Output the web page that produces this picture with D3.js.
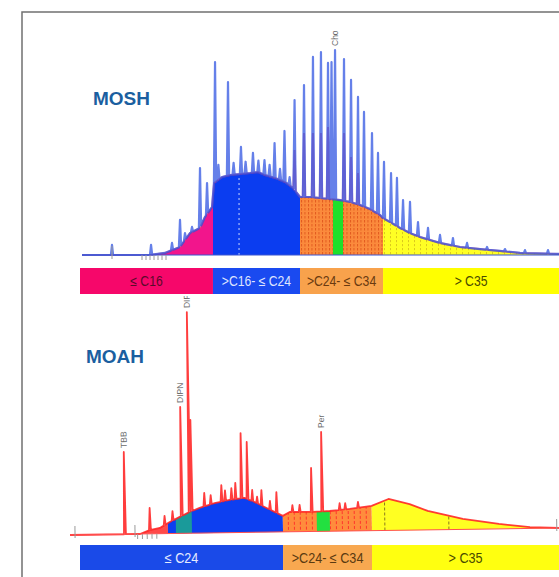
<!DOCTYPE html>
<html>
<head>
<meta charset="utf-8">
<script src="https://cdn.jsdelivr.net/npm/d3@7"></script>
<style>
body { margin: 0; background: #fff; }
svg { display: block; }
text { font-family: "Liberation Sans", Arial, sans-serif; }
</style>
</head>
<body>
<svg id="chart" width="559" height="577"></svg>
<script>
// ---- MOSH trace: retention time (t) and signal (0-100) ----
var moshEnvT = [0.125, 4.375, 5.31, 6.25, 6.875, 7.5, 7.81, 8.25, 8.375, 8.875, 9.375, 10.0, 10.625, 11.125, 11.56, 12.19, 12.81, 13.31, 13.75, 14.375, 15.0, 15.625, 16.25, 16.875, 17.5, 18.125, 18.75, 18.94, 19.375, 20.0, 20.625, 21.25, 21.875, 22.5, 23.75, 25.0, 26.25, 27.5, 29.94];
var moshEnvS = [0, 0, 1.0, 3.9, 10.7, 13.2, 18.5, 23.4, 35.1, 38.0, 39.0, 39.5, 40.0, 40.5, 39.0, 37.6, 35.6, 32.7, 28.3, 28.3, 27.8, 27.3, 26.8, 25.9, 24.4, 22.4, 19.5, 18.0, 16.1, 13.2, 10.7, 8.8, 7.3, 5.9, 3.9, 2.9, 2.0, 1.0, 0.5];
var moshPeakT = [2.0, 4.44, 5.75, 6.25, 6.56, 7.0, 7.5, 7.94, 8.44, 8.65, 9.25, 9.6, 10.06, 10.35, 10.81, 11.15, 11.53, 11.85, 12.16, 12.5, 12.78, 13.1, 13.41, 14.0, 14.56, 15.06, 15.5, 15.72, 15.94, 16.5, 16.94, 17.375, 17.75, 18.25, 18.625, 19.0, 19.44, 19.81, 20.19, 20.625, 21.125, 21.75, 22.5, 23.31, 24.19, 25.44, 26.56, 27.81, 29.25];
var moshPeakS = [4.9, 4.9, 5.9, 17.1, 10.7, 13.7, 42.4, 35.1, 94.1, 44.0, 84.4, 45.0, 52.7, 45.5, 49.8, 46.0, 46.3, 44.0, 54.6, 42.0, 60.5, 38.0, 75.6, 82.9, 96.6, 99.0, 93.7, 94.1, 100, 95.6, 85.4, 77.1, 69.8, 59.5, 49.8, 45.4, 40.0, 37.6, 26.8, 25.9, 16.1, 13.2, 9.8, 8.3, 5.9, 3.9, 2.9, 2.4, 2.4];
var moshRedT = [13.41, 14.0, 14.56, 15.06, 15.5, 16.5, 16.94, 17.375];
var moshRedS = [51.2, 59.5, 59.5, 59.5, 62.4, 59.5, 47.8, 40.0];
var moshLabelT = [15.94];
var moshLabelText = ["Cho"];
var moshMarksT = [3.875, 4.125, 4.375, 4.625, 4.875, 5.125, 5.375];
var moshTallMarksT = [2.0];

// MOSH fractions
var moshBandEdges = [0, 8.31, 13.75, 18.94, 30];
var moshBandLabels = ["\u2264 C16", ">C16- \u2264 C24", ">C24- \u2264 C34", "> C35"];
var moshGreen = [15.81, 16.44];
var moshBlueCuts = [9.94];

// ---- MOAH trace ----
var moahEnvT = [-0.625, 3.75, 4.375, 5.0, 5.625, 6.25, 6.875, 7.5, 8.44, 9.375, 10.31, 10.94, 11.56, 12.69, 13.125, 14.375, 15.625, 16.875, 18.25, 19.31, 20.625, 21.75, 23.94, 26.19, 28.125, 29.94];
var moahEnvS = [0, 0, 1.7, 2.6, 5.2, 7.4, 9.6, 11.3, 13.4, 14.7, 15.5, 13.6, 11.3, 7.2, 8.9, 8.8, 9.1, 9.9, 11.1, 14.1, 11.7, 8.5, 4.7, 2.2, 0.6, 0];
var moahPeakT = [2.81, 4.375, 5.3, 5.8, 6.375, 6.875, 7.0, 7.8, 8.2, 8.875, 9.1, 9.5, 9.75, 10.125, 10.5, 10.8, 11.1, 11.375, 11.9, 12.31, 13.3, 13.75, 14.5, 15.16, 16.25, 16.6, 17.4];
var moahPeakS = [36.9, 11.6, 8.0, 10.0, 56.7, 99.2, 50.8, 18.0, 17.0, 21.4, 19.0, 20.0, 22.3, 44.6, 40.6, 19.0, 16.0, 18.9, 14.0, 17.9, 12.0, 12.0, 28.5, 44.6, 12.5, 12.5, 13.0];
var moahLabelT = [2.81, 6.375, 6.875, 15.16];
var moahLabelText = ["TBB", "DIPN", "DIPN", "Per"];
var moahTallMarksT = [-0.31, 3.44, 29.8];
var moahMarksT = [3.6, 3.9, 4.2, 4.5, 4.8];

// MOAH fractions
var moahFillEdges = [0, 5.5, 12.69, 18.25, 30];
var moahTeal = [6.0, 7.0];
var moahGreen = [14.81, 15.625];
var moahYellowCuts = [19.06, 23.06];
var moahBandEdges = [0, 12.69, 18.25, 30];
var moahBandLabels = ["\u2264 C24", ">C24- \u2264 C34", "> C35"];

var svg = d3.select("#chart");
var x = d3.scaleLinear().domain([0, 30]).range([80, 560]);
var yMosh = d3.scaleLinear().domain([0, 100]).range([255, 50]);
var yMoah = d3.scaleLinear().domain([0, 100]).range([535, 312]);

var defs = svg.append("defs");
var addPattern = function(id, w, h, base, dash, dashLen) {
    var p = defs.append("pattern").attr("id", id)
        .attr("width", w).attr("height", h)
        .attr("patternUnits", "userSpaceOnUse");
    p.append("rect").attr("width", w).attr("height", h).attr("fill", base);
    p.append("line").attr("x1", 0.5).attr("x2", 0.5).attr("y1", 0).attr("y2", dashLen)
        .attr("stroke", dash).attr("stroke-width", 0.9);
};
addPattern("orMosh", 3.5, 4, "#fb8a3c", "#e0561c", 2.5);
addPattern("yeMosh", 6, 4, "#ffff24", "#d8c41c", 2.2);
addPattern("orMoah", 6, 5, "#ff8c3c", "#ff2a2a", 3);

// frame
svg.append("rect").attr("x", 22).attr("y", 12).attr("width", 620).attr("height", 620)
    .attr("fill", "none").attr("stroke", "#707070").attr("stroke-width", 1.5);

var tracePoints = function(envT, envS, peakT, peakS, w) {
    var env = d3.scaleLinear().domain(envT).range(envS);
    var pts = envT.map(function(t, i) { return [t, envS[i]]; })
        .filter(function(p) {
            return !peakT.some(function(pt) { return Math.abs(pt - p[0]) < w; });
        });
    peakT.forEach(function(t, i) {
        pts.push([t - w, env(t - w)], [t, peakS[i]], [t + w, env(t + w)]);
    });
    pts.sort(function(a, b) { return a[0] - b[0]; });
    return pts;
};

var clipId = 0;
var fillRange = function(g, y, envPts, from, to, fill) {
    var id = "clip" + (clipId++);
    defs.append("clipPath").attr("id", id).append("rect")
        .attr("x", x(from)).attr("width", x(to) - x(from))
        .attr("y", 0).attr("height", 577);
    var area = d3.area()
        .x(function(d) { return x(d[0]); })
        .y0(y(0))
        .y1(function(d) { return y(d[1]); });
    g.append("path").datum(envPts)
        .attr("d", area)
        .attr("fill", fill)
        .attr("clip-path", "url(#" + id + ")");
};

var cutLines = function(g, y, env, ts, color, dash) {
    g.selectAll(null).data(ts).enter().append("line")
        .attr("x1", function(d) { return x(d); })
        .attr("x2", function(d) { return x(d); })
        .attr("y1", y(0))
        .attr("y2", function(d) { return y(env(d)); })
        .attr("stroke", color).attr("stroke-width", 1)
        .attr("stroke-dasharray", dash);
};

var marks = function(g, y, ts, up, down) {
    g.selectAll(null).data(ts).enter().append("line")
        .attr("x1", function(d) { return x(d); })
        .attr("x2", function(d) { return x(d); })
        .attr("y1", y(0) - up)
        .attr("y2", y(0) + down)
        .attr("stroke", "#9a9a9a").attr("stroke-width", 1);
};

var peakLabels = function(g, y, peakT, peakS, labelT, labelText) {
    g.selectAll(null).data(labelT).enter().append("text")
        .attr("transform", function(d) {
            var s = peakS[peakT.indexOf(d)];
            return "translate(" + (x(d) + 3) + "," + (y(s) - 4) + ") rotate(-90)";
        })
        .attr("font-size", 8.5)
        .attr("fill", "#6a6a6a")
        .text(function(d, i) { return labelText[i]; });
};

var bands = function(g, edges, labels, colors, textColors, top, h, fs) {
    g.selectAll(null).data(labels).enter().append("rect")
        .attr("x", function(d, i) { return x(edges[i]); })
        .attr("width", function(d, i) { return x(edges[i + 1]) - x(edges[i]); })
        .attr("y", top).attr("height", h)
        .attr("fill", function(d, i) { return colors[i]; });
    // condensed look, like the narrow font of the original
    g.selectAll(null).data(labels).enter().append("text")
        .attr("transform", function(d, i) {
            var cx = (x(edges[i]) + x(Math.min(edges[i + 1], 29.94))) / 2;
            return "translate(" + cx + "," + (top + h / 2 + fs * 0.36) + ") scale(0.87,1)";
        })
        .attr("text-anchor", "middle")
        .attr("font-size", fs)
        .attr("fill", function(d, i) { return textColors[i]; })
        .text(function(d) { return d; });
};

// ---------------- MOSH ----------------
var gMosh = svg.append("g");
var moshEnv = moshEnvT.map(function(t, i) { return [t, moshEnvS[i]]; });
var moshEnvAt = d3.scaleLinear().domain(moshEnvT).range(moshEnvS);
var moshFills = ["#f2158c", "#0b3df0", "url(#orMosh)", "url(#yeMosh)"];
moshBandLabels.forEach(function(d, i) {
    fillRange(gMosh, yMosh, moshEnv, moshBandEdges[i], moshBandEdges[i + 1], moshFills[i]);
});
fillRange(gMosh, yMosh, moshEnv, moshGreen[0], moshGreen[1], "#1fe02a");
cutLines(gMosh, yMosh, moshEnvAt, moshBlueCuts, "#c8d4ff", "2,3");

var line = d3.line().x(function(d) { return x(d[0]); });
gMosh.append("path")
    .datum(tracePoints(moshEnvT, moshEnvS, moshRedT, moshRedS, 0.08))
    .attr("d", line.y(function(d) { return yMosh(d[1]); }))
    .attr("fill", "none").attr("stroke", "#d8407a").attr("stroke-width", 2)
    .attr("stroke-opacity", 0.6);
gMosh.append("path")
    .datum(tracePoints(moshEnvT, moshEnvS, moshPeakT, moshPeakS, 0.07))
    .attr("d", line.y(function(d) { return yMosh(d[1]); }))
    .attr("fill", "none").attr("stroke", "#2a4fe0").attr("stroke-width", 2.2)
    .attr("stroke-linejoin", "round")
    .attr("stroke-opacity", 0.72);
gMosh.append("line")
    .attr("x1", x(0.125)).attr("x2", x(30)).attr("y1", yMosh(0)).attr("y2", yMosh(0))
    .attr("stroke", "#3a55d0").attr("stroke-width", 1);
marks(gMosh, yMosh, moshMarksT, 0, 5);
marks(gMosh, yMosh, moshTallMarksT, 9, 4);
peakLabels(gMosh, yMosh, moshPeakT, moshPeakS, moshLabelT, moshLabelText);

gMosh.append("text").attr("x", 93).attr("y", 105)
    .attr("font-size", 19).attr("font-weight", "bold").attr("fill", "#1b5fa0")
    .text("MOSH");

bands(gMosh, moshBandEdges, moshBandLabels,
    ["#f6076a", "#1a4af0", "#f8a24c", "#ffff00"],
    ["#5a0a2a", "#dfe4ff", "#6a3a10", "#4a4a00"], 268, 26, 14);

// ---------------- MOAH ----------------
defs.append("clipPath").attr("id", "moahClip").append("rect")
    .attr("x", 0).attr("y", 296).attr("width", 559).attr("height", 281);
var gMoahOuter = svg.append("g").attr("clip-path", "url(#moahClip)");
var gMoah = gMoahOuter.append("g").attr("transform", "rotate(-0.82,70,535)");
var moahEnv = moahEnvT.map(function(t, i) { return [t, moahEnvS[i]]; });
var moahEnvAt = d3.scaleLinear().domain(moahEnvT).range(moahEnvS);
var moahFills = ["#ff4a4a", "#0d3ff0", "url(#orMoah)", "#ffff22"];
moahFills.forEach(function(c, i) {
    fillRange(gMoah, yMoah, moahEnv, moahFillEdges[i], moahFillEdges[i + 1], c);
});
fillRange(gMoah, yMoah, moahEnv, moahTeal[0], moahTeal[1], "#1a9a9a");
fillRange(gMoah, yMoah, moahEnv, moahGreen[0], moahGreen[1], "#22e040");
cutLines(gMoah, yMoah, moahEnvAt, moahYellowCuts, "#8a7a20", "3,2");

gMoah.append("path")
    .datum(tracePoints(moahEnvT, moahEnvS, moahPeakT, moahPeakS, 0.06))
    .attr("d", line.y(function(d) { return yMoah(d[1]); }))
    .attr("fill", "none").attr("stroke", "#ff2222").attr("stroke-width", 1.8)
    .attr("stroke-linejoin", "round")
    .attr("stroke-opacity", 0.88);
gMoah.append("line")
    .attr("x1", x(-0.625)).attr("x2", x(30)).attr("y1", yMoah(0)).attr("y2", yMoah(0))
    .attr("stroke", "#ff5050").attr("stroke-width", 1);
marks(gMoah, yMoah, moahMarksT, 0, 5);
marks(gMoah, yMoah, moahTallMarksT, 9, 3);
peakLabels(gMoah, yMoah, moahPeakT, moahPeakS, moahLabelT, moahLabelText);

svg.append("text").attr("x", 86).attr("y", 363)
    .attr("font-size", 19).attr("font-weight", "bold").attr("fill", "#1b5fa0")
    .text("MOAH");

bands(svg.append("g"), moahBandEdges, moahBandLabels,
    ["#1a4ae8", "#f8a850", "#ffff10"],
    ["#e6ebff", "#5a3a10", "#4a4a00"], 545, 25, 14.5);
</script>
</body>
</html>
